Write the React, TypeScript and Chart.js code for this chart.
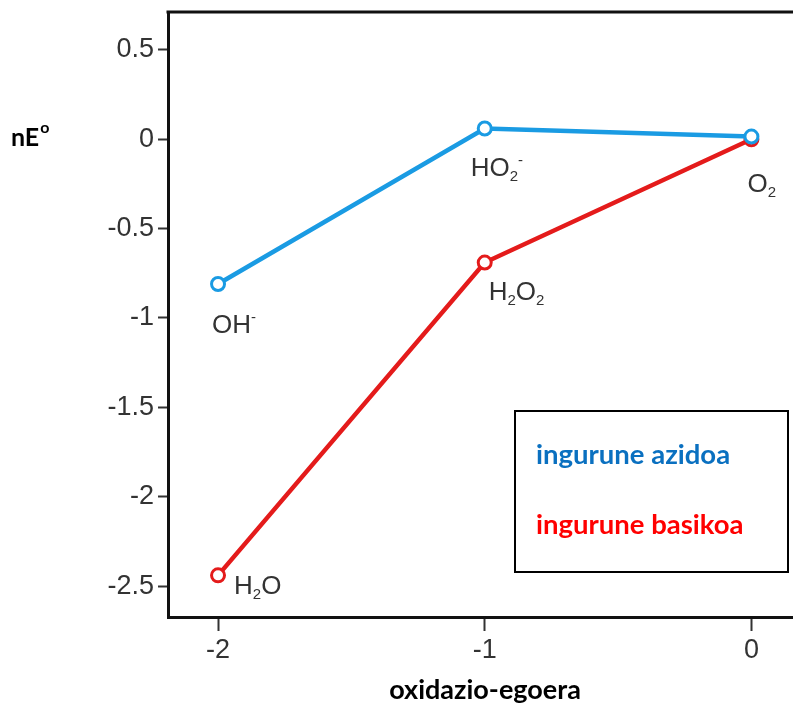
import React, { useEffect, useRef } from "react";
import { Chart, registerables } from "chart.js";

Chart.register(...registerables);

// ---- data ----
const oxidationStates = [-2, -1, 0];
const acidValues = [-0.81, 0.06, 0.015];
const basicValues = [-2.44, -0.69, 0];
const xTickValues = [-2, -1, 0];
const yTickValues = [0.5, 0, -0.5, -1, -1.5, -2, -2.5];
const acidLabels = ["OH^-", "HO_2^-", "O_2"];
const basicLabels = ["H_2O", "H_2O_2", ""];
const legendTexts = ["ingurune azidoa", "ingurune basikoa"];
const yTitle = "nE";
const xTitle = "oxidazio-egoera";

// ---- styles ----
const BLUE = "#1a9be3";
const RED = "#e41b1b";
const LEG_BLUE = "#0a70c0";
const LEG_RED = "#ff0000";
const TXT = "#333333";

// label offsets in pixels relative to point
const acidOffsets = [[-6, 49], [-14, 47], [-4, 55]];
const basicOffsets = [[16, 19], [4, 37], [0, 0]];

function drawChem(ctx: CanvasRenderingContext2D, str: string, x: number, y: number) {
  let cx = x;
  let i = 0;
  while (i < str.length) {
    const c = str[i];
    if (c === "_" || c === "^") {
      const t = str[i + 1];
      ctx.font = "15px 'Liberation Sans'";
      const dy = c === "_" ? 5 : -11;
      ctx.fillText(t, cx, y + dy);
      cx += ctx.measureText(t).width + (c === "_" ? 0 : 1);
      i += 2;
    } else {
      ctx.font = "26px 'Liberation Sans'";
      ctx.fillText(c, cx, y);
      cx += ctx.measureText(c).width;
      i += 1;
    }
  }
}

const overlayPlugin = {
  id: "overlay",
  afterDraw(chart: any) {
    const ctx: CanvasRenderingContext2D = chart.ctx;
    const { left, right, top } = chart.chartArea;
    const xs = chart.scales.x;
    const ys = chart.scales.y;
    ctx.save();
    // top frame line
    ctx.strokeStyle = "#111";
    ctx.lineWidth = 3;
    ctx.beginPath();
    ctx.moveTo(left - 1.5, top);
    ctx.lineTo(right + 10, top);
    ctx.stroke();

    // point labels
    ctx.fillStyle = TXT;
    ctx.textBaseline = "alphabetic";
    ctx.textAlign = "left";
    acidLabels.forEach((lab, i) => {
      if (!lab) return;
      const px = xs.getPixelForValue(oxidationStates[i]);
      const py = ys.getPixelForValue(acidValues[i]);
      drawChem(ctx, lab, px + acidOffsets[i][0], py + acidOffsets[i][1]);
    });
    basicLabels.forEach((lab, i) => {
      if (!lab) return;
      const px = xs.getPixelForValue(oxidationStates[i]);
      const py = ys.getPixelForValue(basicValues[i]);
      drawChem(ctx, lab, px + basicOffsets[i][0], py + basicOffsets[i][1]);
    });

    // legend box
    ctx.strokeStyle = "#000";
    ctx.lineWidth = 2;
    ctx.strokeRect(515, 411, 273, 161);
    ctx.font = "bold 27.5px Lato";
    ctx.fillStyle = LEG_BLUE;
    ctx.fillText(legendTexts[0], 536, 464);
    ctx.fillStyle = LEG_RED;
    ctx.fillText(legendTexts[1], 536, 534);

    // axis titles
    ctx.fillStyle = "#000";
    ctx.font = "bold 25px Lato";
    ctx.fillText(yTitle, 11, 146);
    const w = ctx.measureText(yTitle).width;
    ctx.font = "bold 16px Lato";
    ctx.fillText("o", 11 + w + 1, 133);
    ctx.font = "bold 27px Lato";
    ctx.textAlign = "center";
    ctx.fillText(xTitle, 485, 699);
    ctx.restore();
  },
};

export default function App() {
  const ref = useRef<HTMLCanvasElement | null>(null);
  useEffect(() => {
    if (!ref.current) return;
    const chart = new Chart(ref.current, {
      type: "line",
      data: {
        datasets: [
          {
            label: legendTexts[0],
            data: oxidationStates.map((x, i) => ({ x, y: acidValues[i] })),
            borderColor: BLUE,
            backgroundColor: "#fff",
            pointBackgroundColor: "#fff",
            pointBorderColor: BLUE,
            borderWidth: 4.5,
            pointRadius: 6.5,
            pointBorderWidth: 3,
            tension: 0,
          },
          {
            label: legendTexts[1],
            data: oxidationStates.map((x, i) => ({ x, y: basicValues[i] })),
            borderColor: RED,
            backgroundColor: "#fff",
            pointBackgroundColor: "#fff",
            pointBorderColor: RED,
            borderWidth: 4.5,
            pointRadius: 6.5,
            pointBorderWidth: 3,
            tension: 0,
          },
        ],
      },
      options: {
        animation: false,
        responsive: false,
        layout: { padding: { top: 12, right: 2, left: 0, bottom: 0 } },
        plugins: { legend: { display: false }, tooltip: { enabled: false } },
        scales: {
          x: {
            type: "linear",
            min: -2.1876,
            max: 0.184,
            afterBuildTicks: (s: any) => {
              s.ticks = xTickValues.map((v) => ({ value: v }));
            },
            afterFit: (s: any) => {
              s.height = 89;
              s.paddingLeft = 0;
              s.paddingRight = 0;
            },
            border: { display: true, width: 3, color: "#111" },
            grid: {
              display: true,
              drawOnChartArea: false,
              drawTicks: true,
              tickLength: 14,
              tickWidth: 2,
              tickColor: "#333",
            },
            ticks: {
              padding: 3,
              color: TXT,
              font: { family: "'Liberation Sans'", size: 27 },
              callback: (v: any) => String(v),
            },
          },
          y: {
            type: "linear",
            min: -2.673,
            max: 0.712,
            afterBuildTicks: (s: any) => {
              s.ticks = yTickValues.map((v) => ({ value: v }));
            },
            afterFit: (s: any) => {
              s.width = 168;
              s.paddingTop = 0;
              s.paddingBottom = 0;
            },
            border: { display: true, width: 3, color: "#111" },
            grid: {
              display: true,
              drawOnChartArea: false,
              drawTicks: true,
              tickLength: 10,
              tickWidth: 2,
              tickColor: "#333",
            },
            ticks: {
              padding: 4,
              color: TXT,
              font: { family: "'Liberation Sans'", size: 27 },
              callback: (v: any) => String(v),
            },
          },
        },
      },
      plugins: [overlayPlugin],
    });
    return () => chart.destroy();
  }, []);
  return (
    <div
      style={{
        position: "fixed",
        left: 0,
        top: 0,
        width: 793,
        height: 706,
        overflow: "hidden",
        background: "#fff",
      }}
    >
      <canvas ref={ref} width={810} height={706} style={{ display: "block" }} />
    </div>
  );
}
